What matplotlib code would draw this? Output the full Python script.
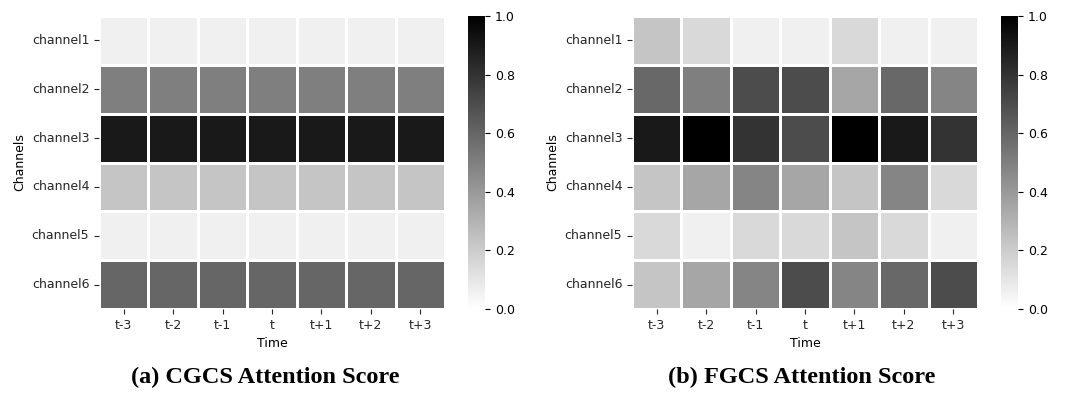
import numpy as np
import matplotlib
matplotlib.use("Agg")
import matplotlib.pyplot as plt
import seaborn as sns

channels = ["channel1", "channel2", "channel3", "channel4", "channel5", "channel6"]
time_steps = ["t-3", "t-2", "t-1", "t", "t+1", "t+2", "t+3"]

# CGCS: one score per channel, same over all time steps
cgcs_scores = [0.06, 0.50, 0.90, 0.23, 0.06, 0.60]

# FGCS: score per channel and time step
fgcs_ch1 = [0.23, 0.15, 0.06, 0.06, 0.15, 0.06, 0.06]
fgcs_ch2 = [0.59, 0.50, 0.70, 0.70, 0.35, 0.59, 0.48]
fgcs_ch3 = [0.90, 1.00, 0.80, 0.70, 1.00, 0.90, 0.80]
fgcs_ch4 = [0.23, 0.35, 0.48, 0.35, 0.23, 0.48, 0.15]
fgcs_ch5 = [0.15, 0.06, 0.15, 0.15, 0.23, 0.15, 0.06]
fgcs_ch6 = [0.23, 0.35, 0.48, 0.70, 0.48, 0.59, 0.70]

cgcs = np.array([[v] * len(time_steps) for v in cgcs_scores])
fgcs = np.array([fgcs_ch1, fgcs_ch2, fgcs_ch3, fgcs_ch4, fgcs_ch5, fgcs_ch6])

fig = plt.figure(figsize=(10.8, 3.93), dpi=100)
W, H = 1080, 393


def px_axes(x0, y0, x1, y1):
    # pixel box (top-left origin) -> figure fraction axes
    return fig.add_axes([x0 / W, 1 - y1 / H, (x1 - x0) / W, (y1 - y0) / H])


panels = [
    (cgcs, (99, 16, 445, 309), (468, 16, 485, 309), 265, "(a) CGCS Attention Score"),
    (fgcs, (632, 16, 978, 309), (1001, 16, 1018, 309), 802, "(b) FGCS Attention Score"),
]

for data, hbox, cbox, cx, caption in panels:
    ax = px_axes(*hbox)
    cax = px_axes(*cbox)
    sns.heatmap(data, ax=ax, cbar_ax=cax, cmap="gray_r", vmin=0, vmax=1,
                linewidths=0.8, linecolor="white",
                xticklabels=time_steps, yticklabels=channels)
    ax.tick_params(labelsize=9, colors="#262626")
    ax.set_yticklabels(channels, rotation=0)
    ax.set_xlabel("Time", fontsize=9)
    ax.set_ylabel("Channels", fontsize=9)
    cax.tick_params(labelsize=9)
    cax.set_yticks([0, 0.2, 0.4, 0.6, 0.8, 1.0])
    cax.set_yticklabels(["0.0", "0.2", "0.4", "0.6", "0.8", "1.0"])
    fig.text(cx / W, 1 - 377 / H, caption, ha="center", va="center",
             family="Liberation Serif", weight="bold", fontsize=17.5)

fig.savefig("out.png", dpi=100)
